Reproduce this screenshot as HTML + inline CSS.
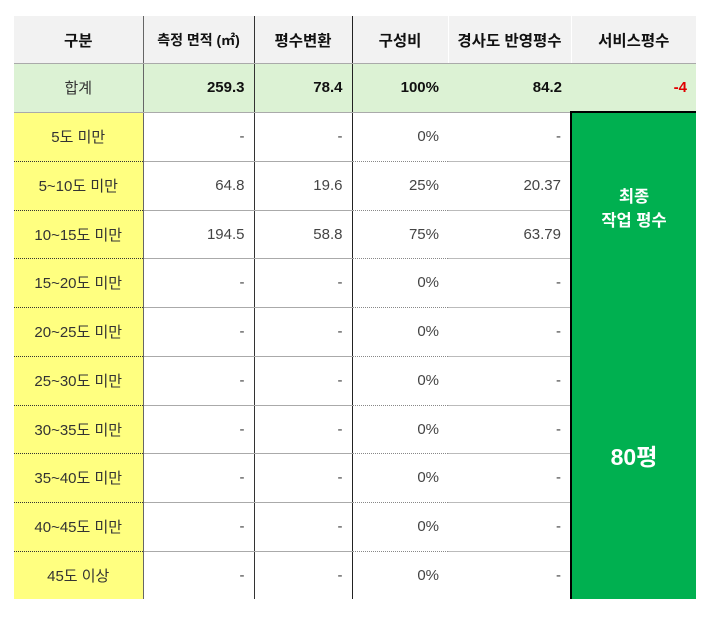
<!DOCTYPE html>
<html><head><meta charset="utf-8"><style>
html,body{margin:0;padding:0;background:#fff;width:720px;height:627px;overflow:hidden}
body{font-family:"Liberation Sans","Noto Sans CJK KR",sans-serif;}
table{position:absolute;left:14px;top:16px;border-collapse:collapse;table-layout:fixed;width:682px}
td{padding:0 9px 0 0;text-align:right;font-size:15px;color:#444;white-space:nowrap;overflow:visible}
tr.h td{background:#f2f2f2;font-weight:bold;color:#111;text-align:center;padding:0;height:47px;border-bottom:1px solid #aaa;font-size:15.5px}
tr.t td{background:#dcf2d4;font-weight:bold;color:#111;height:47px;border-bottom:1px solid #aaa}
tr.t td.c1{font-weight:normal;color:#333}
td.c1{background:#ffff80;text-align:center;padding:0;color:#333;border-right:1px solid #666;border-bottom:1px dotted #333}
td.c2{border-right:1px solid #333;border-bottom:1px solid #aaa}
td.c3{border-right:1px solid #222;border-bottom:1px solid #aaa}
td.c4{border-bottom:1px dotted #888}
td.c5{border-bottom:1px solid #bbb}
tr.h td.c1,tr.h td.c2,tr.h td.c3{background:#f2f2f2}
tr.h td.c4,tr.h td.c5{border-right:1px solid #fff}
tr.t td.c1{background:#dcf2d4;border-right:1px solid #666}
tr.last td{border-bottom:none}
td.g{background:#00b050;color:#fff;font-weight:bold;text-align:center;padding:0;border-left:2px solid #000;border-top:2px solid #000;vertical-align:top;position:relative}
.red{color:#e00000 !important}
</style></head><body>
<table>
<colgroup><col style="width:129px"><col style="width:111px"><col style="width:98px"><col style="width:96px"><col style="width:123px"><col style="width:125px"></colgroup>
<tr class="h"><td class="c1">구분</td><td class="c2" style="font-size:14px">측정 면적 (㎡)</td><td class="c3">평수변환</td><td class="c4">구성비</td><td class="c5">경사도 반영평수</td><td>서비스평수</td></tr>
<tr class="t"><td class="c1">합계</td><td class="c2">259.3</td><td class="c3">78.4</td><td class="c4">100%</td><td class="c5">84.2</td><td class="red">-4</td></tr>
<tr style="height:49px"><td class="c1">5도 미만</td><td class="c2">-</td><td class="c3">-</td><td class="c4">0%</td><td class="c5">-</td>
<td class="g" rowspan="10"><div style="position:absolute;left:0;right:0;top:72px;font-size:16.5px;line-height:24px">최종<br>작업 평수</div><div style="position:absolute;left:0;right:0;top:325px;font-size:23px">80평</div></td></tr>
<tr style="height:49px"><td class="c1">5~10도 미만</td><td class="c2">64.8</td><td class="c3">19.6</td><td class="c4">25%</td><td class="c5">20.37</td></tr>
<tr style="height:48px"><td class="c1">10~15도 미만</td><td class="c2">194.5</td><td class="c3">58.8</td><td class="c4">75%</td><td class="c5">63.79</td></tr>
<tr style="height:49px"><td class="c1">15~20도 미만</td><td class="c2">-</td><td class="c3">-</td><td class="c4">0%</td><td class="c5">-</td></tr>
<tr style="height:49px"><td class="c1">20~25도 미만</td><td class="c2">-</td><td class="c3">-</td><td class="c4">0%</td><td class="c5">-</td></tr>
<tr style="height:49px"><td class="c1">25~30도 미만</td><td class="c2">-</td><td class="c3">-</td><td class="c4">0%</td><td class="c5">-</td></tr>
<tr style="height:48px"><td class="c1">30~35도 미만</td><td class="c2">-</td><td class="c3">-</td><td class="c4">0%</td><td class="c5">-</td></tr>
<tr style="height:49px"><td class="c1">35~40도 미만</td><td class="c2">-</td><td class="c3">-</td><td class="c4">0%</td><td class="c5">-</td></tr>
<tr style="height:49px"><td class="c1">40~45도 미만</td><td class="c2">-</td><td class="c3">-</td><td class="c4">0%</td><td class="c5">-</td></tr>
<tr class="last" style="height:48px"><td class="c1">45도 이상</td><td class="c2">-</td><td class="c3">-</td><td class="c4">0%</td><td class="c5">-</td></tr>
</table>
</body></html>
